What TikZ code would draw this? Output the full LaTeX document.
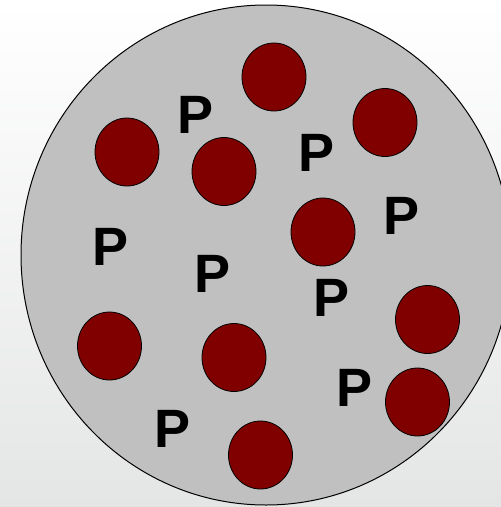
\documentclass[tikz,border=0pt]{standalone}
\usepackage{fontspec}
\setmainfont{Liberation Sans}
\usepackage{tikz}
\usetikzlibrary{shapes.geometric}

\definecolor{cellgray}{RGB}{192,192,192}
\definecolor{granule}{RGB}{128,0,0}
\definecolor{bgbottom}{RGB}{228,230,229}

\begin{document}
\begin{tikzpicture}
[x=1pt,y=-1pt,
 cell/.style={draw=black,line width=1pt,fill=cellgray,ellipse,
   minimum width=490pt,minimum height=500pt,inner sep=0pt},
 granule/.style={draw=black,line width=0.8pt,fill=granule,ellipse,
   minimum width=64pt,minimum height=68pt,inner sep=0pt},
 letterP/.style={inner sep=0pt,font=\fontsize{54}{60}\selectfont\bfseries}]
\useasboundingbox (0,0) rectangle (501,507);
\shade[top color=white,bottom color=bgbottom] (0,0) rectangle (501,507);
\begin{scope}
\clip (0,0) rectangle (501,507);
\node[cell] (cell) at (266,255) {};
\end{scope}
% granules
\node[granule] (g1) at (274,77) {};
\node[granule] (g2) at (127,152) {};
\node[granule] (g3) at (224,171.5) {};
\node[granule] (g4) at (385,122.5) {};
\node[granule] (g5) at (323,232) {};
\node[granule] (g6) at (427.5,319.5) {};
\node[granule] (g7) at (109.5,346) {};
\node[granule] (g8) at (234,357.5) {};
\node[granule] (g9) at (417.5,402) {};
\node[granule] (g10) at (260.5,455) {};
% letters
\node[letterP] (p1) at (195.5,114.5) {P};
\node[letterP] (p2) at (317,152.5) {P};
\node[letterP] (p3) at (401.5,216) {P};
\node[letterP] (p4) at (111,247) {P};
\node[letterP] (p5) at (212.5,273.5) {P};
\node[letterP] (p6) at (332,297.5) {P};
\node[letterP] (p7) at (354.5,387.5) {P};
\node[letterP] (p8) at (173,428.5) {P};
\end{tikzpicture}
\end{document}
